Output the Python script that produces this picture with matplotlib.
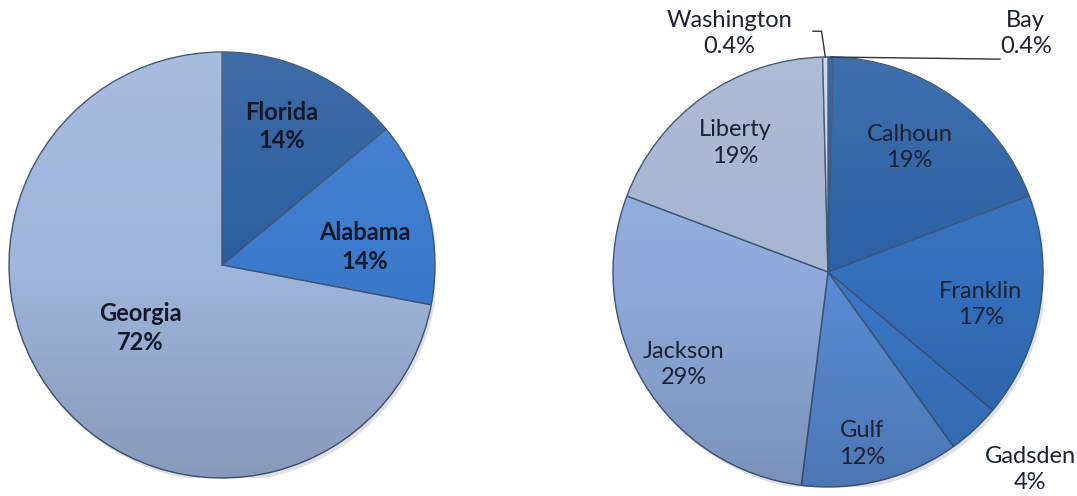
import numpy as np
import matplotlib
matplotlib.use("Agg")
import matplotlib.pyplot as plt
from matplotlib.patches import Circle

# left pie: share by state
states = ["Florida", "Alabama", "Georgia"]
state_pct = [14, 14, 72]
state_colors = ["#2c5e9f", "#3b7acd", "#9fb5dc"]

# right pie: share by county
counties = ["Bay", "Calhoun", "Franklin", "Gadsden", "Gulf", "Jackson", "Liberty", "Washington"]
county_pct = [0.4, 19, 17, 4, 12, 29, 19, 0.4]
county_labels = ["0.4%", "19%", "17%", "4%", "12%", "29%", "19%", "0.4%"]
county_colors = ["#2a5a9b", "#2d61a5", "#3470bd", "#3a79c8", "#5a8cd3", "#90abdb", "#a6b5d0", "#c8d5ec"]

# label spots in pie units (x, y)
state_pos = [(0.28, 0.65), (0.67, 0.085), (-0.385, -0.296)]
county_pos = [(0.92, 1.11), (0.38, 0.58), (0.71, -0.15), (0.94, -0.92),
              (0.16, -0.80), (-0.67, -0.43), (-0.43, 0.60), (-0.46, 1.11)]

plt.rcParams["font.family"] = ["Lato", "DejaVu Sans"]

W, H = 1077, 496
fig = plt.figure(figsize=(W / 100, H / 100), dpi=100)


def pie_axes(cx, cy, r):
    return fig.add_axes([(cx - r) / W, (H - cy - r) / H, 2 * r / W, 2 * r / H])


def shade(ax):
    # soft vertical light-to-dark gradient over the pie, like the office 3d style
    g = np.linspace(0, 1, 256)[:, None]
    img = np.zeros((256, 1, 4))
    img[..., :3] = np.where(g < 0.5, 1.0, 0.0)[..., None]
    img[..., 3] = np.where(g < 0.5, (0.5 - g) * 0.18, (g - 0.5) * 0.3)
    im = ax.imshow(img, extent=(-1, 1, -1, 1), origin="upper", aspect="auto", zorder=3)
    im.set_clip_path(Circle((0, 0), 1.0, transform=ax.transData))
    ax.add_patch(Circle((0.012, -0.018), 1.0, color="#000000", alpha=0.12, zorder=0, lw=0))


# left pie
ax1 = pie_axes(222, 265, 213)
w1, _ = ax1.pie(state_pct, colors=state_colors, startangle=90, counterclock=False,
                wedgeprops=dict(edgecolor="#3a5577", linewidth=1.0))
for w in w1:
    w.set_zorder(2)
shade(ax1)
for name, p, pos in zip(states, state_pct, state_pos):
    ax1.text(pos[0], pos[1], f"{name}\n{p}%", ha="center", va="center", fontsize=17,
             fontweight="bold", color="#111827", linespacing=1.3, zorder=5)
ax1.set_xlim(-1, 1)
ax1.set_ylim(-1, 1)
ax1.axis("off")

# right pie
ax2 = pie_axes(828, 272, 215)
w2, _ = ax2.pie(county_pct, colors=county_colors, startangle=90, counterclock=False,
                wedgeprops=dict(edgecolor="#3a5577", linewidth=1.0))
for w in w2:
    w.set_zorder(2)
shade(ax2)
for name, lab, pos in zip(counties, county_labels, county_pos):
    ax2.text(pos[0], pos[1], f"{name}\n{lab}", ha="center", va="center", fontsize=17,
             color="#1b2233", linespacing=1.3, zorder=5)

# leader lines for the two tiny slices
for w, end in [(w2[0], (0.80, 0.99)), (w2[-1], (-0.07, 1.12))]:
    t = np.deg2rad((w.theta1 + w.theta2) / 2)
    x0, y0 = np.cos(t), np.sin(t)
    if end[0] > 0:
        ax2.plot([x0, end[0]], [y0, end[1]], color="#333333", lw=1, zorder=6, clip_on=False)
    else:
        ax2.plot([x0, -0.03, end[0]], [y0, 1.12, end[1]], color="#333333", lw=1,
                 zorder=6, clip_on=False)
ax2.set_xlim(-1, 1)
ax2.set_ylim(-1, 1)
ax2.axis("off")

fig.savefig("out.png", dpi=100)
